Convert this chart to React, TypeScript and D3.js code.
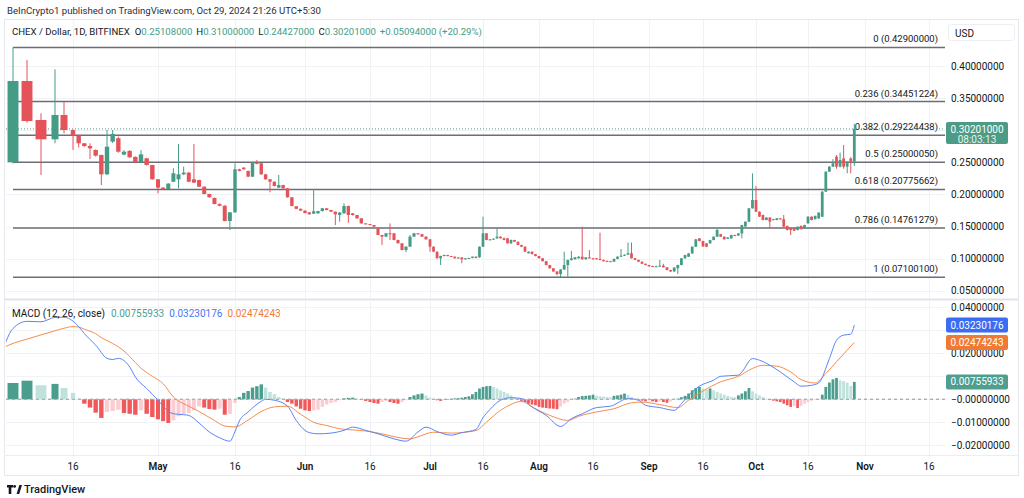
import React from "react";
import * as d3 from "d3";

// ---------------- DATA ----------------
const startDay = "2024-04-11";

const open = [
  .2500,.3766,.3159,.2858,.3237,.3003,.2914,.2796,.2754,.2692,.2614,.2313,.2822,.2875,.2620,.2678,.2585,.2500,.2562,.2458,
  .2235,.2105,.2084,.2198,.2235,.2313,.2339,.2235,.2224,.2120,.2006,.1945,.1850,.1824,.1586,.1721,.2391,.2417,.2365,.2276,.2495,.2485,.2313,.2235,.2198,.2105,.2146,.2094,.1955,.1815,.1775,
  .1748,.1720,.1700,.1705,.1740,.1783,.1757,.1731,.1679,.1705,.1819,.1705,.1679,.1627,.1548,.1538,.1523,.1472,.1368,.1342,.1394,.1394,.1290,.1238,.1134,.1186,.1342,.1394,.1380,.1342,
  .1300,.1186,.1108,.1005,.1040,.1056,.1040,.1030,.1005,.1018,.0990,.1005,.1010,.1030,.1020,.1186,.1394,.1290,.1300,.1316,.1342,.1316,.1316,.1238,.1290,.1263,.1212,.1186,.1083,.1108,.1070,
  .1040,.1005,.0960,.0900,.0849,.0800,.0760,.0830,.0900,.0978,.0990,.1005,.1030,.0990,.1020,.1005,.1005,.0995,.0980,.0965,.0960,.0952,.0995,.1030,.1045,.1060,.1083,.1005,.0980,.0952,.0920,
  .0900,.0885,.0875,.0875,.0890,.0864,.0822,.0800,.0850,.0900,.1004,.1030,.1081,.1185,.1315,.1274,.1237,.1237,.1289,.1341,.1380,.1341,.1310,.1315,.1367,.1360,.1393,.1500,.1575,.1783,
  .1913,.1731,.1679,.1601,.1640,.1601,.1601,.1627,.1614,.1510,.1471,.1471,.1445,.1510,.1471,.1549,.1653,.1614,.1627,.1653,.2043,.2354,.2432,.2588,.2432,.2560,.2432,.2560,.25108,
];
const high = [
  .4290,.4093,.3263,.3948,.3444,.3010,.2920,.2800,.2796,.2700,.2620,.3003,.3003,.2900,.2690,.2690,.2590,.2690,.2570,.2460,
  .2240,.2110,.2175,.2407,.2784,.2432,.2350,.2784,.2230,.2125,.2010,.1950,.1860,.1830,.1725,.2484,.2400,.2425,.2370,.2500,.2535,.2490,.2320,.2240,.2200,.2302,.2150,.2100,.1960,.1820,.1780,
  .1750,.1725,.2084,.1745,.1790,.1785,.1760,.1735,.1725,.1860,.1825,.1710,.1680,.1630,.1550,.1540,.1525,.1475,.1370,.1400,.1548,.1400,.1295,.1240,.1190,.1368,.1400,.1398,.1385,.1345,
  .1305,.1190,.1110,.1045,.1060,.1058,.1042,.1032,.1020,.1020,.1008,.1012,.1032,.1032,.1190,.1653,.1398,.1305,.1315,.1472,.1345,.1330,.1320,.1295,.1292,.1265,.1215,.1190,.1112,.1110,.1072,
  .1042,.1008,.0962,.0902,.0852,.0803,.0835,.1108,.0985,.1120,.1025,.1035,.1497,.1025,.1134,.1008,.1008,.1404,.0982,.0968,.0962,.1000,.1035,.1150,.1065,.1250,.1250,.1008,.0982,.0955,.0922,
  .0902,.0888,.0890,.0978,.0920,.0866,.0825,.0865,.0905,.1008,.1060,.1085,.1190,.1305,.1320,.1278,.1240,.1292,.1345,.1471,.1385,.1345,.1335,.1370,.1372,.1396,.1527,.1580,.1788,.2328,
  .2132,.1735,.1685,.1645,.1645,.1620,.1630,.1632,.1679,.1512,.1475,.1475,.1500,.1515,.1528,.1660,.1658,.1670,.1720,.2050,.2360,.2440,.2550,.2614,.2650,.2769,.2520,.2580,.3100,
];
const low = [
  .2480,.3117,.2302,.2796,.2951,.2692,.2730,.2740,.2551,.2590,.2146,.2300,.2800,.2650,.2610,.2570,.2495,.2495,.2450,.2230,
  .2016,.2080,.2080,.2190,.2094,.2300,.2190,.2180,.2115,.2000,.1950,.1845,.1815,.1580,.1445,.1715,.2360,.2385,.2270,.2270,.2470,.2305,.2230,.2032,.2125,.2100,.2090,.1950,.1815,.1770,.1745,
  .1705,.1685,.1695,.1700,.1735,.1750,.1725,.1523,.1575,.1700,.1558,.1670,.1620,.1545,.1535,.1520,.1495,.1365,.1212,.1335,.1290,.1285,.1235,.1130,.1100,.1180,.1340,.1375,.1338,.1295,
  .1108,.1100,.1000,.0900,.1035,.1035,.1025,.1000,.1000,.0927,.0985,.1000,.1005,.1005,.1015,.1180,.1285,.1285,.1295,.1310,.1312,.1285,.1235,.1230,.1258,.1208,.1180,.1105,.1080,.1065,.1035,
  .1000,.0955,.0895,.0845,.0795,.0740,.0710,.0825,.0718,.0970,.0985,.1000,.0985,.0985,.1000,.0985,.0985,.0975,.0955,.0948,.0948,.0950,.0990,.1025,.1040,.1055,.1000,.0975,.0948,.0915,.0895,
  .0875,.0870,.0870,.0872,.0860,.0818,.0790,.0795,.0760,.0895,.1000,.1025,.1075,.1180,.1270,.1185,.1180,.1232,.1285,.1338,.1338,.1296,.1305,.1310,.1350,.1355,.1315,.1495,.1570,.1778,
  .1725,.1648,.1596,.1596,.1471,.1598,.1598,.1608,.1495,.1440,.1367,.1430,.1440,.1455,.1468,.1545,.1596,.1610,.1620,.1648,.2040,.2350,.2428,.2400,.2420,.2400,.2330,.2328,.24427,
];
const close = [
  .3766,.3143,.2858,.3237,.3003,.2914,.2796,.2754,.2718,.2603,.2313,.2743,.2942,.2665,.2665,.2578,.2500,.2624,.2458,.2235,
  .2105,.2084,.2168,.2329,.2313,.2339,.2198,.2183,.2120,.2006,.1955,.1850,.1824,.1586,.1721,.2391,.2365,.2391,.2276,.2495,.2475,.2313,.2235,.2198,.2131,.2146,.2094,.1955,.1820,.1775,.1748,
  .1710,.1690,.1737,.1740,.1783,.1757,.1731,.1690,.1718,.1819,.1679,.1679,.1627,.1548,.1538,.1523,.1497,.1368,.1342,.1394,.1380,.1290,.1238,.1134,.1186,.1342,.1394,.1380,.1342,.1300,
  .1186,.1108,.1005,.1040,.1056,.1040,.1030,.1005,.1018,.0990,.1005,.1010,.1030,.1010,.1186,.1394,.1290,.1300,.1310,.1342,.1316,.1290,.1238,.1290,.1263,.1212,.1186,.1108,.1108,.1070,.1040,
  .1005,.0960,.0900,.0849,.0800,.0760,.0830,.0900,.0978,.1005,.1020,.1030,.0990,.1020,.1005,.0990,.0990,.0980,.0960,.0952,.0952,.0995,.1030,.1045,.1060,.1083,.1005,.0980,.0952,.0920,.0900,
  .0880,.0875,.0880,.0890,.0864,.0822,.0800,.0860,.0900,.1004,.1055,.1081,.1185,.1300,.1274,.1190,.1185,.1289,.1341,.1445,.1341,.1300,.1330,.1367,.1355,.1393,.1523,.1575,.1783,.1913,
  .1731,.1653,.1601,.1640,.1575,.1614,.1627,.1614,.1497,.1445,.1445,.1435,.1497,.1458,.1523,.1653,.1601,.1665,.1717,.2043,.2354,.2432,.2484,.2432,.2536,.2432,.2510,.25107,.30201,
];

const histogram = [
  .0071,.0081,.0061,.0067,.0049,.0028,.0003,-.0019,-.0036,-.0058,-.0081,-.0055,-.0051,-.0045,-.0060,-.0063,-.0067,-.0048,-.0063,-.0077,
  -.0087,-.0095,-.0103,-.0092,-.0074,-.0065,-.0060,-.0048,-.0031,-.0036,-.0042,-.0045,-.0041,-.0067,-.0063,-.0016,.0010,.0028,.0036,.0051,.0057,.0065,.0051,.0032,.0022,.0010,.0004,-.0012,-.0019,-.0031,-.0041,
  -.0048,-.0051,-.0048,-.0045,-.0033,-.0023,-.0016,-.0012,-.0004,.0004,.0006,.0007,.0003,-.0001,-.0007,-.0012,-.0016,-.0019,-.0012,-.0007,-.0012,-.0016,-.0019,-.0012,-.0004,.0010,.0017,.0022,.0025,.0017,
  .0007,.0001,-.0004,-.0007,-.0004,.0001,.0002,.0004,.0005,.0007,.0010,.0013,.0022,.0032,.0047,.0054,.0057,.0058,.0054,.0047,.0039,.0032,.0025,.0017,.0007,.0001,-.0007,-.0012,-.0019,-.0023,-.0026,
  -.0033,-.0036,-.0038,-.0040,-.0041,-.0043,-.0031,-.0019,-.0012,-.0003,.0003,.0010,.0014,.0015,.0017,.0020,.0015,.0013,.0012,.0010,.0009,.0015,.0017,.0020,.0025,.0020,.0010,.0003,-.0004,-.0006,-.0009,
  -.0004,-.0009,-.0012,-.0009,-.0012,-.0015,-.0009,-.0003,.0003,.0009,.0015,.0025,.0039,.0049,.0054,.0047,.0042,.0047,.0039,.0032,.0025,.0020,.0015,.0010,.0009,.0017,.0025,.0035,.0049,.0035,
  .0025,.0017,.0010,.0003,-.0003,-.0006,-.0009,-.0012,-.0019,-.0026,-.0033,-.0029,-.0038,-.0029,-.0019,-.0012,-.0006,-.0003,-.0001,.0020,.0054,.0073,.0087,.0093,.0083,.0079,.0073,.0058,.00755933,
];

const macdDays = ["2024-04-10","2024-04-11","2024-04-12","2024-04-13","2024-04-14","2024-04-15","2024-04-16","2024-04-17","2024-04-18","2024-04-19","2024-04-20","2024-04-22","2024-04-23","2024-04-24","2024-04-26","2024-04-27","2024-04-29","2024-05-01","2024-05-02","2024-05-04","2024-05-06","2024-05-07","2024-05-09","2024-05-11","2024-05-13","2024-05-15","2024-05-16","2024-05-17","2024-05-19","2024-05-22","2024-05-23","2024-05-25","2024-05-28","2024-05-30","2024-06-01","2024-06-02","2024-06-04","2024-06-07","2024-06-10","2024-06-12","2024-06-15","2024-06-18","2024-06-22","2024-06-25","2024-06-28","2024-06-30","2024-07-03","2024-07-07","2024-07-10","2024-07-14","2024-07-16","2024-07-18","2024-07-21","2024-07-24","2024-07-27","2024-07-30","2024-08-03","2024-08-07","2024-08-10","2024-08-13","2024-08-17","2024-08-21","2024-08-26","2024-08-29","2024-08-31","2024-09-04","2024-09-08","2024-09-10","2024-09-12","2024-09-15","2024-09-19","2024-09-21","2024-09-26","2024-09-27","2024-09-30","2024-10-02","2024-10-05","2024-10-08","2024-10-12","2024-10-14","2024-10-17","2024-10-19","2024-10-22","2024-10-24","2024-10-26","2024-10-28","2024-10-29"];
const macdValues = [.0163,.0308,.0339,.0337,.0356,.0357,.0340,.0316,.0286,.0260,.0236,.0178,.0173,.0178,.0141,.0097,.0047,-.0004,-.0030,-.0063,-.0067,-.0070,-.0103,-.0142,-.0167,-.0182,-.0140,-.0094,-.0055,-.0009,.0000,-.0004,-.0030,-.0092,-.0135,-.0145,-.0150,-.0147,-.0135,-.0121,-.0135,-.0150,-.0172,-.0182,-.0142,-.0121,-.0140,-.0156,-.0145,-.0131,-.0080,-.0044,-.0004,.0007,.0003,-.0033,-.0070,-.0118,-.0084,-.0063,-.0036,-.0030,.0003,-.0004,-.0026,-.0036,-.0048,-.0019,.0017,.0057,.0083,.0100,.0105,.0119,.0177,.0170,.0148,.0119,.0076,.0057,.0061,.0071,.0177,.0257,.0279,.0283,.03230176];

const signalDays = ["2024-04-10","2024-04-11","2024-04-12","2024-04-13","2024-04-14","2024-04-15","2024-04-16","2024-04-17","2024-04-18","2024-04-20","2024-04-21","2024-04-23","2024-04-25","2024-04-27","2024-04-28","2024-04-30","2024-05-02","2024-05-04","2024-05-07","2024-05-09","2024-05-12","2024-05-14","2024-05-16","2024-05-19","2024-05-22","2024-05-25","2024-05-28","2024-05-31","2024-06-03","2024-06-06","2024-06-09","2024-06-12","2024-06-15","2024-06-19","2024-06-23","2024-06-26","2024-06-28","2024-07-02","2024-07-07","2024-07-14","2024-07-17","2024-07-21","2024-07-24","2024-07-27","2024-07-30","2024-08-04","2024-08-09","2024-08-12","2024-08-17","2024-08-22","2024-08-27","2024-08-30","2024-09-04","2024-09-09","2024-09-12","2024-09-16","2024-09-21","2024-09-26","2024-09-30","2024-10-03","2024-10-07","2024-10-11","2024-10-14","2024-10-18","2024-10-21","2024-10-24","2024-10-27","2024-10-29"];
const signalValues = [.0216,.0243,.0262,.0280,.0298,.0309,.0316,.0314,.0305,.0285,.0268,.0243,.0210,.0160,.0135,.0100,.0068,.0010,-.0030,-.0053,-.0092,-.0116,-.0120,-.0090,-.0053,-.0033,-.0030,-.0065,-.0100,-.0114,-.0128,-.0133,-.0138,-.0150,-.0166,-.0172,-.0163,-.0143,-.0147,-.0136,-.0099,-.0048,-.0022,-.0009,-.0033,-.0070,-.0092,-.0074,-.0055,-.0041,-.0015,-.0012,-.0023,-.0036,-.0004,.0036,.0076,.0100,.0134,.0148,.0144,.0119,.0086,.0071,.0112,.0163,.0214,.02474243];

const fibRatios = [0, 0.236, 0.382, 0.5, 0.618, 0.786, 1];
const fibHigh = 0.429;
const fibLow = 0.071001;

const priceTicks = [0.05, 0.10, 0.15, 0.20, 0.25, 0.30, 0.35, 0.40];
const macdTicks = [-0.02, -0.01, 0, 0.01, 0.02, 0.03, 0.04];

const tickDays = ["2024-04-16","2024-05-01","2024-05-16","2024-06-01","2024-06-16","2024-07-01","2024-07-16","2024-08-01","2024-08-16","2024-09-01","2024-09-16","2024-10-01","2024-10-16","2024-11-01","2024-11-16"];
const tickLabels = ["16","May","16","Jun","16","Jul","16","Aug","16","Sep","16","Oct","16","Nov","16"];

// ---------------- LAYOUT ----------------
const W = 1024, H = 498;
const plotL = 6, plotR = 945;
const mainTop = 20, mainBottom = 299;
const macdTop = 300, macdBottom = 455;
// stops of the (uneven) time axis as it appears on screen
const axisStopDays = ["2024-04-11","2024-04-14","2024-04-16","2024-05-01","2024-05-16","2024-06-01","2024-06-16","2024-07-01","2024-07-16","2024-08-01","2024-08-16","2024-09-01","2024-09-16","2024-10-01","2024-10-16","2024-11-01","2024-11-16"];
const axisStopX = [13, 55, 73, 158, 235, 305, 370, 430, 483, 539, 593, 649, 703, 756, 808, 865, 929];

const UP = "#459c86";
const DOWN = "#e4535a";
const H_UP = "#4b9d8e", H_UP_L = "#bfe2dc", H_DN = "#f0585a", H_DN_L = "#f9cdd2";
const BLUE = "#5b84f6", ORANGE = "#f58d4e";
const TXT = "#131722";
const GRID = "#f0f2f6";
const FONT = "Roboto, 'Liberation Sans', Arial, sans-serif";
const BOX_H = 15;

export default function App() {
  const parse = d3.timeParse("%Y-%m-%d");
  const start = parse(startDay) as Date;
  const days = close.map((_, i) => d3.timeDay.offset(start, i));
  const x = d3.scaleTime()
    .domain(axisStopDays.map((d) => parse(d) as Date))
    .range(axisStopX);
  const yP = d3.scaleLinear().domain([0.05, 0.40]).range([290.7, 66.0]);
  const yM = d3.scaleLinear().domain([-0.02, 0.04]).range([445.3, 307.3]);

  const barW = (d: Date) => {
    const s = x(d3.timeDay.offset(d, 1)) - x(d);
    return Math.max(1, s * 0.78);
  };

  const n = close.length;
  const last = n - 1;
  const fmt8 = (v: number) => v.toFixed(8);
  const fmtSigned = (v: number) => (v <= 0 ? "\u2212" + Math.abs(v).toFixed(8) : v.toFixed(8));

  const macdPts = macdDays.map((d, i) => [parse(d) as Date, macdValues[i]] as [Date, number]);
  const sigPts = signalDays.map((d, i) => [parse(d) as Date, signalValues[i]] as [Date, number]);
  const line = d3.line<[Date, number]>().x((p) => x(p[0])).y((p) => yM(p[1])).curve(d3.curveMonotoneX);

  const change = close[last] - close[last - 1];
  const pct = (change / close[last - 1]) * 100;
  const fibStartX = x(start);

  const histColor = (i: number) => {
    const h = histogram[i];
    const prev = i > 0 ? histogram[i - 1] : -Infinity;
    if (h >= 0) return h > prev ? H_UP : H_UP_L;
    return h < prev ? H_DN : H_DN_L;
  };

  const lastMacd = macdValues[macdValues.length - 1];
  const lastSignal = signalValues[signalValues.length - 1];
  const lastHist = histogram[last];
  const boxes = [
    { v: lastMacd, color: "#3a6cf4" },
    { v: lastSignal, color: "#f07a33" },
    { v: lastHist, color: "#4f9e8f" },
  ];
  const boxTops = boxes.map((b) => yM(b.v) - BOX_H / 2);
  // axis labels whose centre sits under a value box are hidden (as in the reference);
  // labels only partly covered are clipped above the box
  const macdLabelVisible = (t: number) => boxTops.every((top) => {
    const c = yM(t);
    return c < top || c > top + BOX_H;
  });
  const priceBoxTop = yP(close[last]) - 7;
  const priceBoxH = 22;
  const priceLabelVisible = (t: number) => {
    const c = yP(t);
    return c < priceBoxTop || c > priceBoxTop + priceBoxH;
  };

  return (
    <svg width={W} height={H} style={{ position: "absolute", left: 0, top: 0, background: "#fff" }} fontFamily={FONT}>
      <defs>
        <clipPath id="clipMain"><rect x={plotL} y={mainTop} width={plotR - plotL} height={mainBottom - mainTop} /></clipPath>
        <clipPath id="clipMacd"><rect x={plotL} y={macdTop} width={plotR - plotL} height={macdBottom - macdTop} /></clipPath>
      </defs>
      <rect x={0} y={0} width={W} height={H} fill="#fff" />

      {/* header */}
      <text x={7} y={14} fontSize={9.6} fill="#2a2e39">BeInCrypto1 published on TradingView.com, Oct 29, 2024 21:26 UTC+5:30</text>

      {/* frame */}
      <rect x={4.5} y={19.5} width={1014} height={456} fill="none" stroke="#e6e8ee" />
      <line x1={4.5} x2={1018.5} y1={macdTop - 0.5} y2={macdTop - 0.5} stroke="#e0e3eb" strokeWidth={2} />
      <line x1={4.5} x2={1018.5} y1={macdBottom + 0.5} y2={macdBottom + 0.5} stroke="#eceef2" />

      {/* grid */}
      {tickDays.map((d, i) => {
        const gx = Math.round(x(parse(d) as Date)) + 0.5;
        return (
          <g key={"vg" + i}>
            <line x1={gx} x2={gx} y1={mainTop} y2={mainBottom - 1} stroke={GRID} />
            <line x1={gx} x2={gx} y1={macdTop + 1} y2={macdBottom} stroke={GRID} />
          </g>
        );
      })}
      {priceTicks.map((t, i) => (
        <line key={"hg" + i} x1={plotL} x2={plotR} y1={Math.round(yP(t)) + 0.5} y2={Math.round(yP(t)) + 0.5} stroke={GRID} />
      ))}
      {macdTicks.map((t, i) => (
        <line key={"mg" + i} x1={plotL} x2={plotR} y1={Math.round(yM(t)) + 0.5} y2={Math.round(yM(t)) + 0.5} stroke={GRID} />
      ))}

      {/* fib retracement */}
      <g clipPath="url(#clipMain)">
        {fibRatios.map((r, i) => {
          const lv = fibHigh - r * (fibHigh - fibLow);
          const fy = yP(lv);
          return (
            <g key={"fib" + i}>
              <line x1={fibStartX} x2={plotR} y1={fy} y2={fy} stroke="#6b6e75" strokeWidth={1.5} />
              <text x={plotR - 7} y={fy - 5} textAnchor="end" fontSize={9.5} fill={TXT}>{`${r} (${lv.toFixed(8)})`}</text>
            </g>
          );
        })}
        {/* current price dotted line */}
        <line x1={plotL} x2={plotR} y1={yP(close[last])} y2={yP(close[last])} stroke="#4c9b85" strokeDasharray="1 2" />
        {/* candles */}
        {days.map((d, i) => {
          const cx = x(d);
          const w = barW(d);
          const up = close[i] >= open[i];
          const col = up ? UP : DOWN;
          const yTop = yP(Math.max(open[i], close[i]));
          const yBot = yP(Math.min(open[i], close[i]));
          return (
            <g key={"c" + i}>
              <line x1={cx} x2={cx} y1={yP(high[i])} y2={yP(low[i])} stroke={col} strokeWidth={1} />
              <rect x={cx - w / 2} y={yTop} width={w} height={Math.max(1, yBot - yTop)} fill={col} />
            </g>
          );
        })}
      </g>

      {/* legend main */}
      <text x={12} y={35} fontSize={9.6} fill={TXT}>
        <tspan>CHEX / Dollar, 1D, BITFINEX</tspan>
        <tspan dx={5}>O</tspan><tspan fill={UP}>{fmt8(open[last])}</tspan>
        <tspan dx={4}>H</tspan><tspan fill={UP}>{fmt8(high[last])}</tspan>
        <tspan dx={4}>L</tspan><tspan fill={UP}>{fmt8(low[last])}</tspan>
        <tspan dx={4}>C</tspan><tspan fill={UP}>{fmt8(close[last])}</tspan>
        <tspan dx={4} fill={UP}>{`+${change.toFixed(8)} (+${pct.toFixed(2)}%)`}</tspan>
      </text>

      {/* price axis */}
      {priceTicks.filter(priceLabelVisible).map((t, i) => (
        <text key={"pl" + i} x={951} y={yP(t)} dy="0.35em" fontSize={10} fill={TXT}>{fmt8(t)}</text>
      ))}
      <rect x={948.5} y={24.5} width={66} height={16} rx={3} fill="#fff" stroke="#eceef2" />
      <text x={955} y={33} dy="0.35em" fontSize={10} fill={TXT}>USD</text>
      <rect x={946} y={priceBoxTop} width={62} height={priceBoxH} rx={2} fill="#4c9b85" />
      <text x={977} y={yP(close[last]) + 0.5} dy="0.35em" textAnchor="middle" fontSize={10} fill="#fff">{fmt8(close[last])}</text>
      <text x={977} y={yP(close[last]) + 10.5} dy="0.35em" textAnchor="middle" fontSize={10} fill="#e8f4f0">08:03:13</text>

      {/* MACD pane */}
      <g clipPath="url(#clipMacd)">
        <line x1={plotL} x2={plotR} y1={yM(0)} y2={yM(0)} stroke="#a9acb4" strokeDasharray="3 3" />
        {days.map((d, i) => {
          const cx = x(d);
          const w = barW(d);
          const y0 = yM(0);
          const y1 = yM(histogram[i]);
          return (
            <rect key={"h" + i} x={cx - w / 2} y={Math.min(y0, y1)} width={w} height={Math.max(0.5, Math.abs(y1 - y0))} fill={histColor(i)} />
          );
        })}
        <path d={line(sigPts) || ""} fill="none" stroke={ORANGE} strokeWidth={1} />
        <path d={line(macdPts) || ""} fill="none" stroke={BLUE} strokeWidth={1} />
      </g>
      <line x1={plotL} x2={plotR + 2} y1={yM(0)} y2={yM(0)} stroke="#a9acb4" strokeDasharray="3 3" />
      <text x={12} y={317} fontSize={10} fill={TXT}>
        <tspan>MACD (12, 26, close)</tspan>
        <tspan dx={6} fill="#4f9e8f">{fmt8(lastHist)}</tspan>
        <tspan dx={5} fill="#4a74f5">{fmt8(lastMacd)}</tspan>
        <tspan dx={5} fill="#f07a33">{fmt8(lastSignal)}</tspan>
      </text>
      {macdTicks.filter(macdLabelVisible).map((t, i) => (
        <text key={"ml" + i} x={951} y={yM(t)} dy="0.35em" fontSize={10} fill={TXT}>{t > 0 ? fmt8(t) : fmtSigned(t)}</text>
      ))}
      {boxes.map((b, i) => (
        <g key={"lb" + i}>
          <rect x={946} y={boxTops[i]} width={62} height={BOX_H} rx={2} fill={b.color} />
          <text x={977} y={yM(b.v)} dy="0.35em" textAnchor="middle" fill="#fff" fontSize={10}>{fmt8(b.v)}</text>
        </g>
      ))}

      {/* time axis */}
      {tickDays.map((d, i) => (
        <text key={"tl" + i} x={x(parse(d) as Date)} y={466} dy="0.35em" textAnchor="middle" fontSize={10}
          fontWeight={tickLabels[i] === "16" ? 400 : 600} fill={TXT}>{tickLabels[i]}</text>
      ))}

      {/* footer logo */}
      <g fill={TXT}>
        <path d="M7 485 H13 V487.5 H11.3 V494 H8.7 V487.5 H7 Z" />
        <circle cx={14.6} cy={486.4} r={1.4} />
        <path d="M16.6 494 L19.4 485 H22 L19.2 494 Z" />
      </g>
      <text x={24} y={493} fontSize={11} fill={TXT} fontWeight={500}>TradingView</text>
    </svg>
  );
}
